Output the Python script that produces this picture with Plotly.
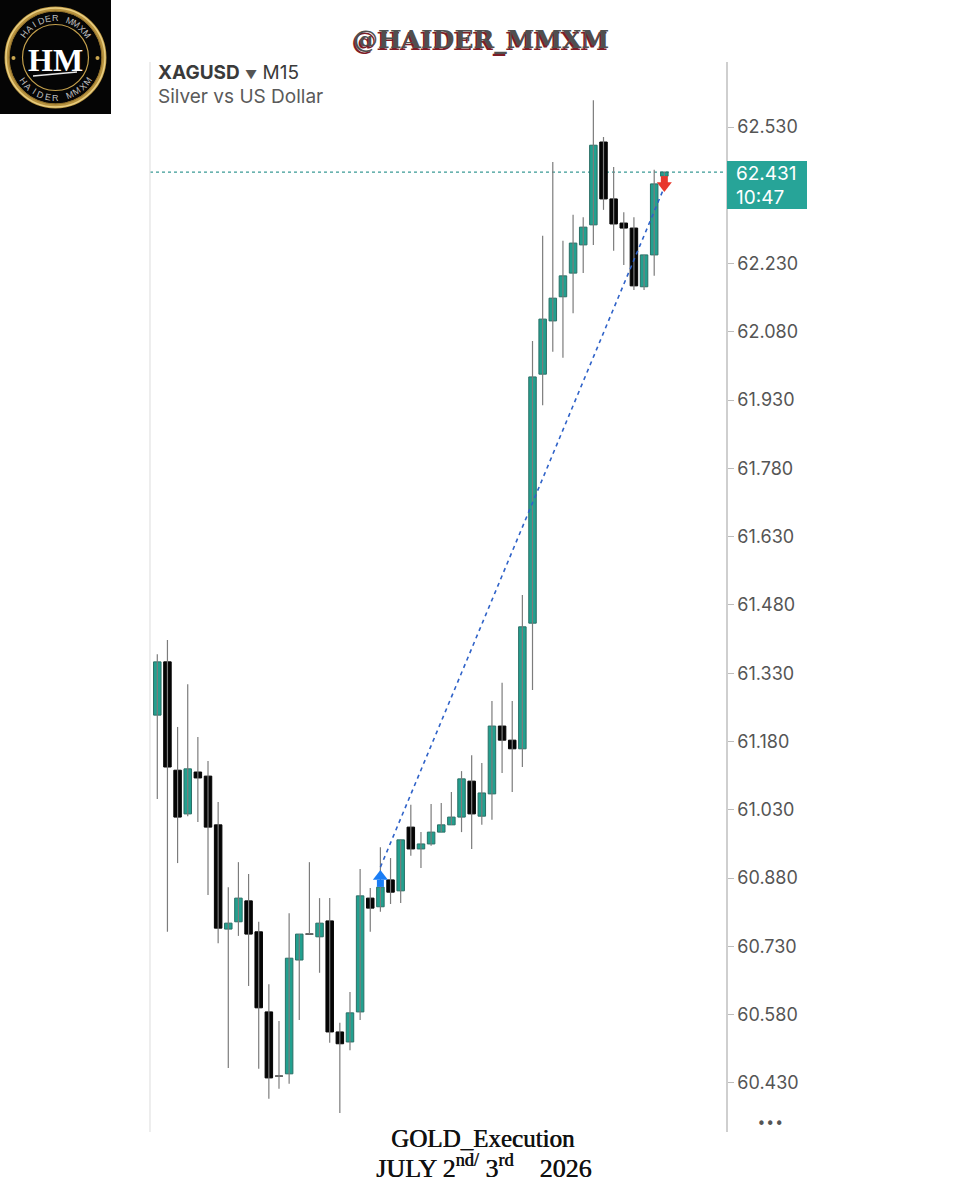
import plotly.graph_objects as go
import math

# ---------------- data ----------------
opens = [61.238, 61.355, 61.117, 61.021, 61.113, 61.104, 60.997, 60.768, 60.784, 60.830,
         60.762, 60.586, 60.445, 60.450, 60.700, 60.757, 60.751, 60.786, 60.542, 60.520,
         60.586, 60.836, 60.817, 60.876, 60.852, 60.992, 60.944, 60.955, 60.981, 60.997,
         61.014, 61.093, 61.016, 61.065, 61.214, 61.183, 61.164, 61.440, 61.987, 62.104,
         62.157, 62.209, 62.271, 62.315, 62.497, 62.372, 62.319, 62.308, 62.179, 62.249,
         62.422]
highs = [61.372, 61.403, 61.212, 61.306, 61.190, 61.137, 61.047, 60.860, 60.915, 60.889,
         60.784, 60.647, 60.566, 60.803, 60.757, 60.915, 60.836, 60.836, 60.562, 60.630,
         60.900, 60.858, 60.948, 60.924, 60.964, 61.041, 60.981, 61.043, 61.045, 61.069,
         61.115, 61.150, 61.133, 61.269, 61.309, 61.269, 61.502, 62.060, 62.291, 62.453,
         62.280, 62.337, 62.332, 62.589, 62.508, 62.442, 62.343, 62.332, 62.249, 62.436,
         62.431]
lows = [61.054, 60.762, 60.913, 61.016, 61.003, 60.843, 60.737, 60.463, 60.753, 60.643,
        60.461, 60.395, 60.417, 60.428, 60.568, 60.757, 60.672, 60.518, 60.364, 60.502,
        60.568, 60.762, 60.806, 60.823, 60.825, 60.929, 60.902, 60.951, 60.981, 60.997,
        60.981, 60.944, 60.997, 61.008, 61.111, 61.069, 61.124, 61.293, 61.919, 62.036,
        62.023, 62.121, 62.209, 62.271, 62.348, 62.258, 62.227, 62.172, 62.172, 62.203,
        62.422]
closes = [61.355, 61.124, 61.014, 61.120, 61.100, 60.992, 60.770, 60.781, 60.836, 60.757,
          60.595, 60.441, 60.445, 60.704, 60.757, 60.757, 60.781, 60.542, 60.516, 60.584,
          60.841, 60.814, 60.860, 60.849, 60.964, 60.944, 60.955, 60.981, 60.997, 61.014,
          61.098, 61.021, 61.067, 61.214, 61.183, 61.164, 61.432, 61.981, 62.108, 62.154,
          62.203, 62.275, 62.310, 62.490, 62.372, 62.317, 62.308, 62.181, 62.249, 62.405,
          62.431]

tick_vals = [60.43, 60.58, 60.73, 60.88, 61.03, 61.18, 61.33, 61.48, 61.63, 61.78,
             61.93, 62.08, 62.23, 62.53]
tick_text = ["60.430", "60.580", "60.730", "60.880", "61.030", "61.180", "61.330",
             "61.480", "61.630", "61.780", "61.930", "62.080", "62.230", "62.530"]

current_price = 62.431
current_price_text = "62.431"
countdown_text = "10:47"

buy_index = 22
buy_arrow_tip = 60.898
sell_index = 50
sell_arrow_tip = 62.387
trend_x = [22, 50]
trend_y = [60.904, 62.398]

# ---------------- geometry ----------------
W, H = 960, 1200
X0_PX, X1_PX = 150, 726
Y0_PX, Y1_PX = 62, 1132
X_RANGE = [-0.72, 56.08]
Y_RANGE = [60.3222, 62.6728]
ppu = (Y1_PX - Y0_PX) / (Y_RANGE[1] - Y_RANGE[0])  # px per price unit


def px(x):
    return x / W


def py(y):
    return 1 - y / H


GREEN = "#22a08f"
GREEN_EDGE = "#2a6f66"
BLACK = "#050505"
WICK = "#7c7c7c"

idx = list(range(len(opens)))

# wicks
wx, wy = [], []
for i in idx:
    wx += [i, i, None]
    wy += [lows[i], highs[i], None]
# doji ticks
dx, dy = [], []
for i in idx:
    if opens[i] == closes[i]:
        dx += [i - 0.38, i + 0.38, None]
        dy += [opens[i], opens[i], None]

body_base = [min(o, c) for o, c in zip(opens, closes)]
body_h = [abs(c - o) for o, c in zip(opens, closes)]
body_col = [GREEN if c > o else BLACK for o, c in zip(opens, closes)]
edge_col = [GREEN_EDGE if c > o else BLACK for o, c in zip(opens, closes)]

fig = go.Figure()
fig.add_trace(go.Scatter(x=wx, y=wy, mode="lines", line=dict(color=WICK, width=1.2),
                         hoverinfo="skip", showlegend=False))
fig.add_trace(go.Scatter(x=dx, y=dy, mode="lines", line=dict(color="#777777", width=1.3),
                         hoverinfo="skip", showlegend=False))
fig.add_trace(go.Bar(x=idx, y=body_h, base=body_base, width=0.74,
                     marker=dict(color=body_col, line=dict(color=edge_col, width=1)),
                     hoverinfo="skip", showlegend=False))

# trend line (blue dotted)
fig.add_trace(go.Scatter(x=trend_x, y=trend_y, mode="lines",
                         line=dict(color="#2f62c8", width=1.6, dash="4px,4px"),
                         hoverinfo="skip", showlegend=False))

# buy arrow (head + stem)
fig.add_trace(go.Scatter(x=[buy_index], y=[buy_arrow_tip - 6.5 / ppu], mode="markers",
                         marker=dict(symbol="triangle-up", size=13, color="#1a7df5", line=dict(width=0)),
                         hoverinfo="skip", showlegend=False))
fig.add_trace(go.Scatter(x=[buy_index], y=[buy_arrow_tip - 13.5 / ppu], mode="markers",
                         marker=dict(symbol="square", size=7, color="#1a7df5", line=dict(width=0)),
                         hoverinfo="skip", showlegend=False))
# sell arrow
fig.add_trace(go.Scatter(x=[sell_index], y=[sell_arrow_tip + 6.5 / ppu], mode="markers",
                         marker=dict(symbol="triangle-down", size=13, color="#e8382d", line=dict(width=0)),
                         hoverinfo="skip", showlegend=False))
fig.add_trace(go.Scatter(x=[sell_index], y=[sell_arrow_tip + 12.5 / ppu], mode="markers",
                         marker=dict(symbol="square", size=7, color="#e8382d", line=dict(width=0)),
                         hoverinfo="skip", showlegend=False))

shapes = []
# current price dashed line
shapes.append(dict(type="line", xref="x domain", yref="y", x0=0, x1=1,
                   y0=current_price, y1=current_price,
                   line=dict(color="#3a9a95", width=1.3, dash="3px,3px"), layer="below"))
# left border line
shapes.append(dict(type="line", xref="paper", yref="paper", x0=px(X0_PX), x1=px(X0_PX),
                   y0=py(Y0_PX), y1=py(Y1_PX), line=dict(color="#e2e2e2", width=1.2)))
# price box
shapes.append(dict(type="rect", xref="paper", yref="paper", x0=px(727), x1=px(807),
                   y0=py(209), y1=py(161), fillcolor="#27a498", line=dict(width=0)))

# ---- logo ----
shapes.append(dict(type="rect", xref="paper", yref="paper", x0=0, x1=px(111),
                   y0=py(114), y1=1, fillcolor="#050505", line=dict(width=0)))
cx, cy = 55.5, 57.5


def circ(r, color, width):
    return dict(type="circle", xref="paper", yref="paper",
                x0=px(cx - r), x1=px(cx + r), y0=py(cy + r), y1=py(cy - r),
                line=dict(color=color, width=width))


shapes.append(circ(48.5, "#b8933f", 5))
shapes.append(circ(49.5, "#e9cf83", 1.5))
shapes.append(circ(46.5, "#8a6a28", 1))
shapes.append(circ(33, "#c4a04c", 1.2))
for dxp in (-42, 42):
    shapes.append(dict(type="circle", xref="paper", yref="paper",
                       x0=px(cx + dxp - 2), x1=px(cx + dxp + 2), y0=py(cy + 2.5), y1=py(cy - 1.5),
                       fillcolor="#c9a650", line=dict(width=0)))
shapes.append(dict(type="line", xref="paper", yref="paper", x0=px(33), x1=px(77),
                   y0=py(76), y1=py(72), line=dict(color="#e8e8e8", width=1.5)))

annotations = []
annotations.append(dict(x=px(cx), y=py(60), xref="paper", yref="paper", text="HM",
                        showarrow=False, xanchor="center", yanchor="middle",
                        font=dict(family="Liberation Serif", size=32, color="#ffffff", weight="bold")))
arc_text = "HAIDER MMXM"
n = len(arc_text)
for k, ch in enumerate(arc_text):
    if ch == " ":
        continue
    th = 143 - k * (106 / (n - 1))
    r = 39
    annotations.append(dict(x=px(cx + r * math.cos(math.radians(th))),
                            y=py(cy - r * math.sin(math.radians(th))),
                            xref="paper", yref="paper", text=ch, showarrow=False,
                            textangle=90 - th, xanchor="center", yanchor="middle",
                            font=dict(family="Liberation Sans", size=9, color="#bdbdbd")))
for k, ch in enumerate(arc_text):
    if ch == " ":
        continue
    th = 216 + k * (108 / (n - 1))
    r = 40
    annotations.append(dict(x=px(cx + r * math.cos(math.radians(th))),
                            y=py(cy - r * math.sin(math.radians(th))),
                            xref="paper", yref="paper", text=ch, showarrow=False,
                            textangle=270 - th, xanchor="center", yanchor="middle",
                            font=dict(family="Liberation Sans", size=9, color="#bdbdbd")))

# title
annotations.append(dict(x=px(481), y=py(40), xref="paper", yref="paper", text="@HAIDER_MMXM",
                        showarrow=False, xanchor="center", yanchor="middle",
                        font=dict(family="DejaVu Serif", size=25, color="#4f4f4f", weight="bold",
                                  shadow="-1.5px 1.5px 0px #7d1d26")))
# symbol header
annotations.append(dict(x=px(156), y=py(72), xref="paper", yref="paper",
                        text="<b>XAGUSD</b> <span style='font-size:12px;color:#555'>▼</span> M15",
                        showarrow=False, xanchor="left", yanchor="middle",
                        font=dict(family="Inter", size=19, color="#3a3a3a")))
annotations.append(dict(x=px(156), y=py(97), xref="paper", yref="paper",
                        text="Silver vs US Dollar",
                        showarrow=False, xanchor="left", yanchor="middle",
                        font=dict(family="Inter", size=19, color="#5a5a5a")))
# price label texts
annotations.append(dict(x=px(734), y=py(173), xref="paper", yref="paper", text=current_price_text,
                        showarrow=False, xanchor="left", yanchor="middle",
                        font=dict(family="Inter", size=19, color="#ffffff")))
annotations.append(dict(x=px(734), y=py(197), xref="paper", yref="paper", text=countdown_text,
                        showarrow=False, xanchor="left", yanchor="middle",
                        font=dict(family="Inter", size=19, color="#ffffff")))
# dots
annotations.append(dict(x=px(770), y=py(1124), xref="paper", yref="paper", text="•••",
                        showarrow=False, xanchor="center", yanchor="middle",
                        font=dict(family="DejaVu Sans", size=15, color="#555555")))
# bottom texts
annotations.append(dict(x=px(483), y=py(1138), xref="paper", yref="paper", text="GOLD_Execution",
                        showarrow=False, xanchor="center", yanchor="middle",
                        font=dict(family="Liberation Serif", size=25, color="#111111",
                                  shadow="0.6px 0px 0px #111111")))
annotations.append(dict(x=px(483), y=py(1166), xref="paper", yref="paper",
                        text="JULY 2<sup>nd/</sup> 3<sup>rd</sup>\u00a0\u00a0\u00a0 2026",
                        showarrow=False, xanchor="center", yanchor="middle",
                        font=dict(family="Liberation Serif", size=26, color="#111111",
                                  shadow="0.6px 0px 0px #111111")))

fig.update_layout(
    width=W, height=H,
    margin=dict(l=0, r=0, t=0, b=0),
    paper_bgcolor="white", plot_bgcolor="white",
    hovermode=False, showlegend=False,
    xaxis=dict(domain=[px(X0_PX), px(X1_PX)], range=X_RANGE, visible=False, fixedrange=True),
    yaxis=dict(domain=[py(Y1_PX), py(Y0_PX)], range=Y_RANGE, side="right",
               showgrid=False, zeroline=False, showline=True, linecolor="#cfcfcf", linewidth=1.5,
               ticks="outside", ticklen=6, tickcolor="#bdbdbd", tickwidth=1,
               tickvals=tick_vals, ticktext=tick_text,
               tickfont=dict(family="Inter", size=18, color="#555555"), fixedrange=True),
    shapes=shapes, annotations=annotations,
)

fig.write_html("out.html")
